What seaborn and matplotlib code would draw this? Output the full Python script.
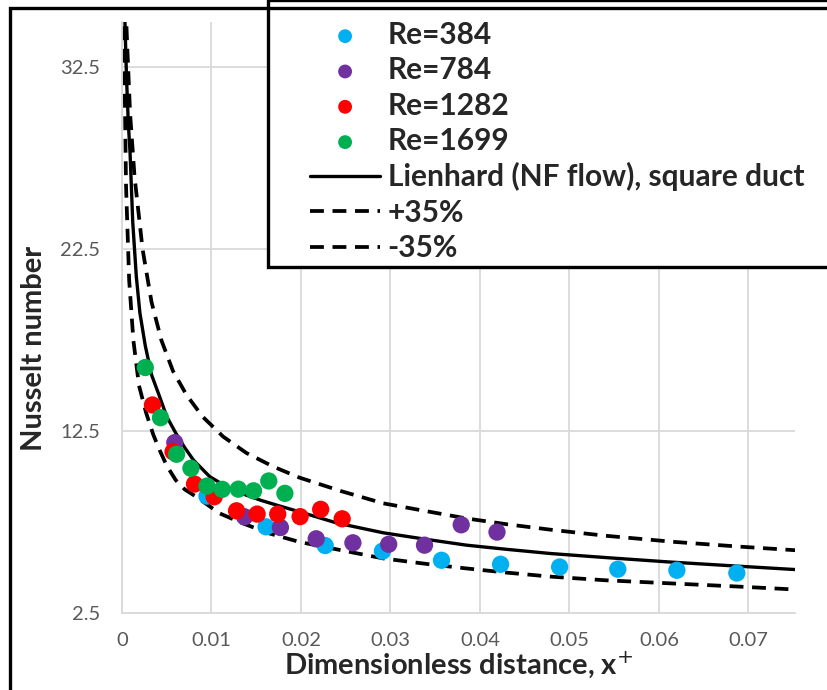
import numpy as np
import pandas as pd
import matplotlib
matplotlib.use("Agg")
import matplotlib.pyplot as plt
from matplotlib.patches import Rectangle
import seaborn as sns

re384_x = [0.0095, 0.0161, 0.0227, 0.0291, 0.0357, 0.0423, 0.0489, 0.0554, 0.0620, 0.0687]
re384_nu = [8.93, 7.24, 6.21, 5.90, 5.40, 5.18, 5.03, 4.91, 4.85, 4.70]

re784_x = [0.0059, 0.0137, 0.0177, 0.0217, 0.0258, 0.0298, 0.0338, 0.0379, 0.0419]
re784_nu = [11.87, 7.79, 7.20, 6.58, 6.36, 6.28, 6.23, 7.35, 6.95]

re1282_x = [0.0034, 0.0057, 0.0081, 0.0103, 0.0128, 0.0151, 0.0174, 0.0199, 0.0222, 0.0246]
re1282_nu = [13.94, 11.37, 9.59, 8.89, 8.12, 7.94, 7.94, 7.80, 8.20, 7.68]

re1699_x = [0.0026, 0.0043, 0.0061, 0.0077, 0.0095, 0.0112, 0.0130, 0.0147, 0.0164, 0.0182]
re1699_nu = [16.00, 13.24, 11.23, 10.46, 9.48, 9.30, 9.31, 9.22, 9.76, 9.08]

# Lienhard correlation and the +/- band
lien_x = [0.0003, 0.0005, 0.0007, 0.0009, 0.0012, 0.0016, 0.0020, 0.0026, 0.0033,
          0.0042, 0.0050, 0.0060, 0.0070, 0.0080, 0.0098, 0.0115, 0.0135, 0.0155,
          0.0175, 0.0198, 0.0240, 0.0292, 0.0340, 0.0385, 0.0430, 0.0479, 0.0540,
          0.0610, 0.0680, 0.0752]
lien_nu = [35.5, 32.0, 29.5, 27.8, 24.0, 21.0, 19.0, 17.2, 15.6,
           14.4, 13.3, 12.4, 11.6, 10.9, 10.0, 9.5, 9.05, 8.7,
           8.4, 8.07, 7.45, 6.91, 6.55, 6.23, 6.00, 5.77, 5.55,
           5.31, 5.10, 4.89]

upper_x = [0.0004, 0.0006, 0.0009, 0.0014, 0.0023, 0.0033, 0.0044, 0.0057, 0.0072,
           0.0090, 0.0113, 0.0139, 0.0169, 0.0198, 0.0245, 0.0292, 0.0340, 0.0385,
           0.0430, 0.0479, 0.0540, 0.0617, 0.0690, 0.0753]
upper_nu = [36.0, 33.5, 30.0, 26.5, 22.5, 19.6, 17.5, 15.8, 14.5,
            13.3, 12.2, 11.3, 10.55, 9.95, 9.2, 8.53, 8.1, 7.7,
            7.38, 7.08, 6.75, 6.41, 6.15, 5.95]

lower_x = [0.0002, 0.0003, 0.00045, 0.0008, 0.00127, 0.0019, 0.0027, 0.0035, 0.0042,
           0.0050, 0.0060, 0.0070, 0.0083, 0.0109, 0.0135, 0.0165, 0.0198, 0.0245,
           0.0292, 0.0340, 0.0385, 0.0430, 0.0479, 0.0540, 0.0617, 0.0690, 0.0753]
lower_nu = [36.0, 31.5, 26.0, 20.8, 17.5, 15.0, 13.5, 12.3, 11.46,
            10.6, 9.81, 9.3, 8.89, 7.98, 7.43, 6.87, 6.41, 5.95,
            5.5, 5.2, 4.95, 4.72, 4.5, 4.3, 4.12, 3.95, 3.79]

series = [
    ("Re=384", re384_x, re384_nu, "#00B0F0"),
    ("Re=784", re784_x, re784_nu, "#7030A0"),
    ("Re=1282", re1282_x, re1282_nu, "#FF0000"),
    ("Re=1699", re1699_x, re1699_nu, "#00B050"),
]
x_ticks = [0, 0.01, 0.02, 0.03, 0.04, 0.05, 0.06, 0.07]
y_ticks = [2.5, 12.5, 22.5, 32.5]

# ── Style ─────────────────────────────────────────────────────────────────────
sns.set_style("white")
plt.rcParams["font.family"] = ["Lato", "DejaVu Sans"]

W, H = 828, 690
fig = plt.figure(figsize=(W / 100, H / 100), dpi=100)
ax = fig.add_axes([122 / W, 1 - 613 / H, (795 - 122) / W, (613 - 22) / H])

# ── Points ────────────────────────────────────────────────────────────────────
for label, xs, ys, col in series:
    sns.scatterplot(x=xs, y=ys, ax=ax, color=col, s=155, edgecolor="none",
                    label=label, zorder=3, clip_on=False)

# ── Curves ────────────────────────────────────────────────────────────────────
sns.lineplot(x=lien_x, y=lien_nu, ax=ax, color="black", lw=2.4,
             label="Lienhard (NF flow), square duct", estimator=None, zorder=2)
sns.lineplot(x=upper_x, y=upper_nu, ax=ax, color="black", lw=2.7,
             dashes=False, label="+35%", estimator=None, zorder=2)
sns.lineplot(x=lower_x, y=lower_nu, ax=ax, color="black", lw=2.7,
             dashes=False, label="-35%", estimator=None, zorder=2)
for ln in ax.lines[1:3]:
    ln.set_dashes((3.7, 2.3))

# ── Axes ──────────────────────────────────────────────────────────────────────
ax.set_xlim(0, 0.0752)
ax.set_ylim(2.5, 35.0)
ax.set_xticks(x_ticks)
ax.set_xticklabels([f"{v:g}" for v in x_ticks])
ax.set_yticks(y_ticks)
ax.set_yticklabels([f"{v:g}" for v in y_ticks])
ax.tick_params(length=0, labelsize=14.5, labelcolor="#595959")
ax.tick_params(axis="y", pad=16)
ax.tick_params(axis="x", pad=14)
ax.grid(True, color="#d9d9d9", lw=1.3)
ax.set_axisbelow(True)
for s in ["top", "right"]:
    ax.spines[s].set_visible(False)
for s in ["left", "bottom"]:
    ax.spines[s].set_color("#d9d9d9")
    ax.spines[s].set_linewidth(1.3)

ax.set_xlabel("Dimensionless distance, x$^{+}$", fontsize=21, fontweight="bold")
ax.set_ylabel("Nusselt number", fontsize=21, fontweight="bold")
ax.xaxis.set_label_coords(0.5, -0.062)
ax.yaxis.set_label_coords(-0.112, 0.447)

# ── Legend (boxed, overlapping the top right) ─────────────────────────────────
handles, labels = ax.get_legend_handles_labels()
ax.get_legend().remove()
fig.patches.append(Rectangle((268 / W, 1 - 267 / H), 1.0, 267 / H, transform=fig.transFigure,
                             facecolor="white", edgecolor="black", lw=2.4, zorder=5))
leg = fig.legend(handles, labels, loc="upper left",
                 bbox_to_anchor=(310 / W, 1 - 21 / H), frameon=False,
                 prop={"weight": "bold", "size": 21.5},
                 handlelength=2.35, handletextpad=0.25, labelspacing=0.245,
                 borderpad=0, borderaxespad=0, markerscale=0.8)
leg.set_zorder(6)

# outer chart border
fig.patches.append(Rectangle((10 / W, -0.1), 1.2, 1 - 8 / H + 0.1, transform=fig.transFigure,
                             facecolor="none", edgecolor="black", lw=2.4, zorder=7))

fig.savefig("out.png", dpi=100)
